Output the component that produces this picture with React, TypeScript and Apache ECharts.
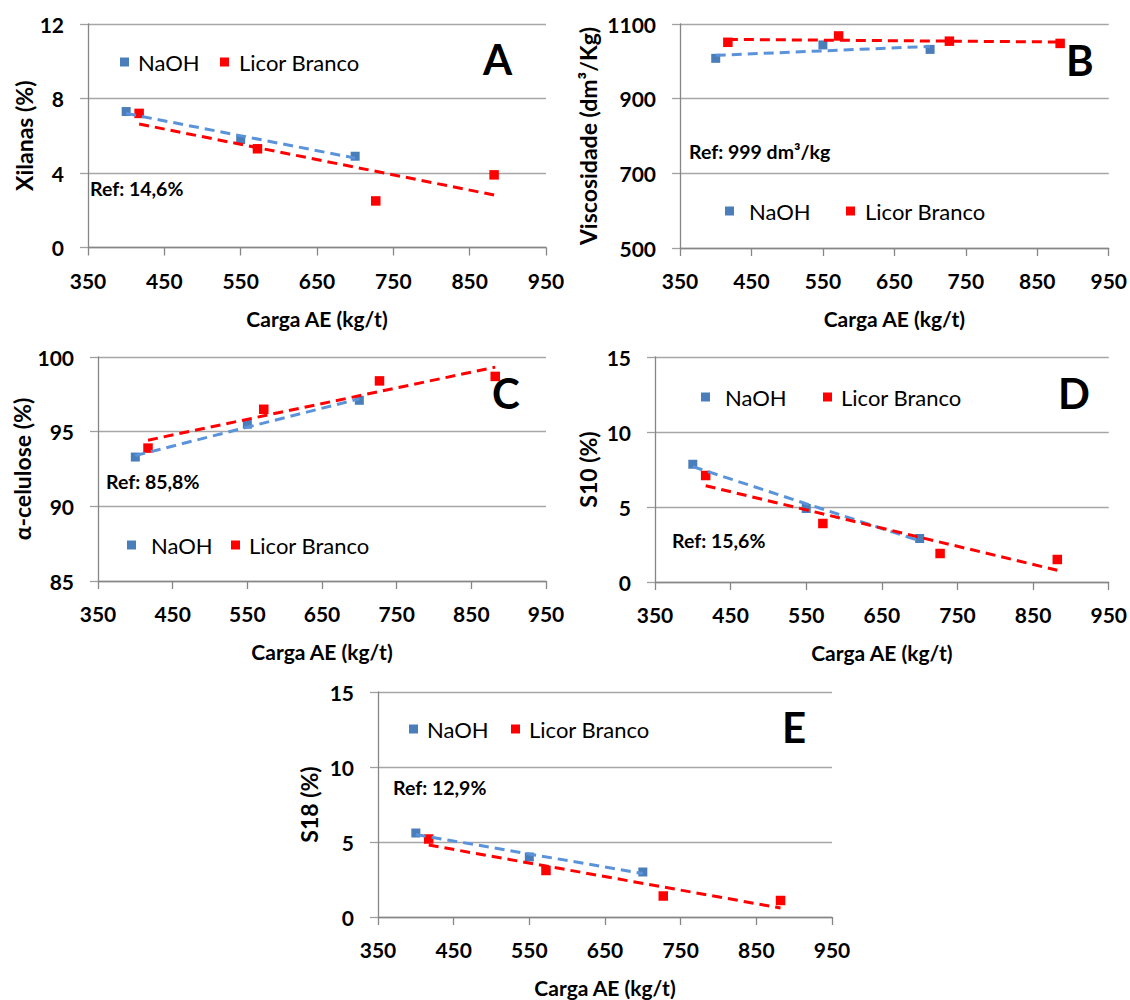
import React, { useEffect, useRef } from "react";
import * as echarts from "echarts";

// Carga AE (kg/t)
const xNaOH = [400, 550, 700];
const xLicor = [417, 572, 727, 882];

// A - Xilanas (%)
const xilanasNaOH = [7.3, 5.8, 4.9];
const xilanasLicor = [7.2, 5.3, 2.5, 3.9];
// B - Viscosidade (dm3/Kg)
const viscNaOH = [1008, 1044, 1032];
const viscLicor = [1051, 1068, 1054, 1048];
// C - alfa-celulose (%)
const celNaOH = [93.3, 95.5, 97.1];
const celLicor = [93.9, 96.5, 98.4, 98.7];
// D - S10 (%)
const s10NaOH = [7.85, 4.9, 2.9];
const s10Licor = [7.1, 3.9, 1.9, 1.5];
// E - S18 (%)
const s18NaOH = [5.6, 4.0, 3.0];
const s18Licor = [5.2, 3.1, 1.4, 1.1];

const xTicks = [350, 450, 550, 650, 750, 850, 950];

const panelLetters = ["A", "B", "C", "D", "E"];
const yNames = ["Xilanas (%)", "Viscosidade (dm³/Kg)", "α-celulose (%)", "S10 (%)", "S18 (%)"];
const refTexts = ["Ref: 14,6%", "Ref: 999 dm³/kg", "Ref: 85,8%", "Ref: 15,6%", "Ref: 12,9%"];
const yRanges = [
  [0, 12, 4],
  [500, 1100, 200],
  [85, 100, 5],
  [0, 15, 5],
  [0, 15, 5],
];
const xName = "Carga AE (kg/t)";
const seriesNames = ["NaOH", "Licor Branco"];

const BLUE = "#4A7EBB";
const BLUE_LINE = "#5A93DA";
const RED = "#FF0000";
const FONT = "Lato";

// layout
const grids = [
  { left: 88, top: 24, width: 458, height: 223.5 },
  { left: 680, top: 24, width: 430, height: 224 },
  { left: 98, top: 357, width: 448, height: 224 },
  { left: 655, top: 357, width: 455, height: 225 },
  { left: 378, top: 692, width: 454, height: 225 },
];
const yNameGaps = [49, 81, 61, 56, 58];
const letterPos = [
  [483, 62],
  [1066, 63],
  [492, 396],
  [1058, 396],
  [782, 730],
];
const refPos = [
  [90, 189],
  [689, 152],
  [106, 482],
  [672, 541],
  [393, 788],
];
// legend [blueIconLeft, centerY, blueTextPad, redIconLeft, redTextPad]
const legendPos = [
  [120, 62, 4, 220, 5],
  [725, 211, 10, 846, 5],
  [127, 545, 10, 231, 4],
  [701, 397, 10, 823, 4],
  [409, 729, 4, 511, 4],
];

function fit(xs: number[], ys: number[]) {
  const n = xs.length;
  const mx = xs.reduce((a, b) => a + b, 0) / n;
  const my = ys.reduce((a, b) => a + b, 0) / n;
  let sxy = 0;
  let sxx = 0;
  for (let i = 0; i < n; i++) {
    sxy += (xs[i] - mx) * (ys[i] - my);
    sxx += (xs[i] - mx) * (xs[i] - mx);
  }
  const b = sxy / sxx;
  const a = my - b * mx;
  return [
    [xs[0], a + b * xs[0]],
    [xs[n - 1], a + b * xs[n - 1]],
  ];
}

const panelData = [
  [xilanasNaOH, xilanasLicor],
  [viscNaOH, viscLicor],
  [celNaOH, celLicor],
  [s10NaOH, s10Licor],
  [s18NaOH, s18Licor],
];

export default function App() {
  const ref = useRef<HTMLDivElement>(null);
  useEffect(() => {
    document.body.style.margin = "0";
    if (!ref.current) return;
    const chart = echarts.init(ref.current, null, { renderer: "svg" });

    const xAxis: any[] = [];
    const yAxis: any[] = [];
    const series: any[] = [];
    const legend: any[] = [];
    const graphic: any[] = [];

    grids.forEach((g, i) => {
      xAxis.push({
        gridIndex: i,
        type: "value",
        min: xTicks[0],
        max: xTicks[xTicks.length - 1],
        interval: 100,
        name: xName,
        nameLocation: "middle",
        nameGap: 60,
        nameTextStyle: { fontSize: 21, fontWeight: "bold", color: "#000", fontFamily: FONT },
        axisLine: { show: true, lineStyle: { color: "#868686", width: 1.3 } },
        axisTick: { show: true, length: 8, lineStyle: { color: "#868686", width: 1.3 } },
        splitLine: { show: false },
        axisLabel: {
          fontSize: 21,
          fontWeight: "bold",
          color: "#000",
          margin: 22,
          fontFamily: FONT,
          formatter: (v: number) => String(v),
        },
      });
      const [ymin, ymax, yint] = yRanges[i];
      yAxis.push({
        gridIndex: i,
        type: "value",
        min: ymin,
        max: ymax,
        interval: yint,
        name: yNames[i],
        nameLocation: "middle",
        nameGap: yNameGaps[i],
        nameRotate: 90,
        nameTextStyle: { fontSize: 23, fontWeight: "bold", color: "#000", fontFamily: FONT },
        axisLine: { show: true, lineStyle: { color: "#868686", width: 1.3 } },
        axisTick: { show: true, length: 8, lineStyle: { color: "#a0a0a0", width: 1.3 } },
        splitLine: { show: true, lineStyle: { color: "#a6a6a6", width: 1.3 } },
        axisLabel: {
          fontSize: 21,
          fontWeight: "bold",
          color: "#000",
          margin: 24,
          fontFamily: FONT,
          formatter: (v: number) => String(v),
        },
      });

      const [naoh, licor] = panelData[i];
      series.push({
        name: "NaOH linear",
        type: "line",
        xAxisIndex: i,
        yAxisIndex: i,
        data: fit(xNaOH, naoh),
        showSymbol: false,
        symbol: "none",
        lineStyle: { color: BLUE_LINE, width: 3, type: [10, 6] },
        z: 3,
      });
      series.push({
        name: "Licor Branco linear",
        type: "line",
        xAxisIndex: i,
        yAxisIndex: i,
        data: fit(xLicor, licor),
        showSymbol: false,
        symbol: "none",
        lineStyle: { color: RED, width: 3, type: [10, 6] },
        z: 3,
      });
      series.push({
        name: seriesNames[0],
        type: "scatter",
        xAxisIndex: i,
        yAxisIndex: i,
        data: xNaOH.map((x, k) => [x, naoh[k]]),
        symbol: "rect",
        symbolSize: 9,
        itemStyle: { color: BLUE, opacity: 1 },
        z: 2,
      });
      series.push({
        name: seriesNames[1],
        type: "scatter",
        xAxisIndex: i,
        yAxisIndex: i,
        data: xLicor.map((x, k) => [x, licor[k]]),
        symbol: "rect",
        symbolSize: 9.5,
        itemStyle: { color: RED, opacity: 1 },
        z: 2,
      });

      const [bl, cy, bpad, rl, rpad] = legendPos[i];
      [
        [bl, bpad],
        [rl, rpad],
      ].forEach(([left, pad], k) => {
        legend.push({
          data: [seriesNames[k]],
          left,
          top: cy - 12,
          padding: 0,
          icon: "rect",
          itemWidth: 9,
          itemHeight: 9,
          selectedMode: false,
          itemStyle: { opacity: 1 },
          textStyle: {
            fontSize: 22,
            color: "#000",
            fontFamily: FONT,
            padding: [0, 0, 0, pad],
            lineHeight: 24,
          },
        });
      });

      graphic.push({
        type: "text",
        left: letterPos[i][0],
        top: letterPos[i][1] - 24,
        style: {
          text: panelLetters[i],
          fontSize: 42,
          fontWeight: "bold",
          fill: "#000",
          fontFamily: FONT,
        },
      });
      graphic.push({
        type: "text",
        left: refPos[i][0],
        top: refPos[i][1] - 11,
        style: {
          text: refTexts[i],
          fontSize: 19.5,
          fontWeight: "bold",
          fill: "#000",
          fontFamily: FONT,
        },
      });
    });

    chart.setOption({
      animation: false,
      backgroundColor: "#fff",
      textStyle: { fontFamily: FONT },
      grid: grids,
      xAxis,
      yAxis,
      series,
      legend,
      graphic,
    });
    return () => chart.dispose();
  }, []);
  return <div ref={ref} style={{ width: 1130, height: 1000 }} />;
}
